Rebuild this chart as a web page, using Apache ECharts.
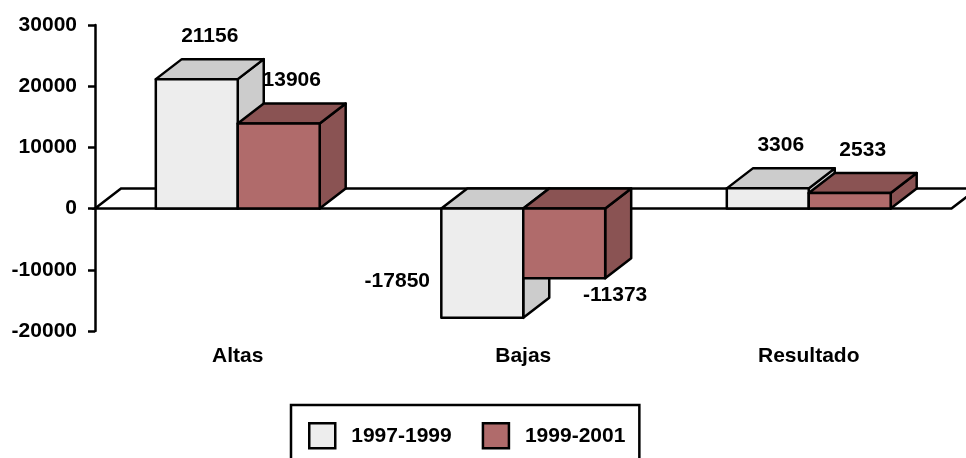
<!DOCTYPE html>
<html>
<head>
<meta charset="utf-8">
<script src="https://cdn.jsdelivr.net/npm/echarts@6/dist/echarts.min.js"></script>
<style>
  html, body { margin: 0; padding: 0; background: #fff; }
  #chart { width: 966px; height: 458px; }
</style>
</head>
<body>
<div id="chart"></div>
<script>
// datos
var categories = ['Altas', 'Bajas', 'Resultado'];
var seriesNames = ['1997-1999', '1999-2001'];
var values9799 = [21156, -17850, 3306];
var values9901 = [13906, -11373, 2533];
var yMin = -20000;
var yMax = 30000;
var yStep = 10000;

// estilo 3D
var DEPTH_X = 26;
var DEPTH_Y = 20;
var BAR_FRAC = 0.287;
var LINE_W = 2.5;
var FONT_SIZE = 21;
var FONT = 'Liberation Sans, Arial, sans-serif';
var faceColors = [
    {front: '#EDEDED', top: '#CCCCCC', side: '#CCCCCC'},
    {front: '#B06B6B', top: '#8A5353', side: '#8A5353'}
];

var chart = echarts.init(document.getElementById('chart'));

function barRenderer(k) {
    var col = faceColors[k];
    return function (params, api) {
        var cat = api.value(0);
        var val = api.value(1);
        var base = api.coord([cat, 0]);
        var end = api.coord([cat, val]);
        var band = api.size([1, 0])[0];
        var w = band * BAR_FRAC;
        var x0 = base[0] - w + k * w;
        var x1 = x0 + w;
        var yTop = Math.min(base[1], end[1]);
        var yBot = Math.max(base[1], end[1]);
        var line = {stroke: '#000', lineWidth: LINE_W, lineJoin: 'round'};

        // posicion de la etiqueta
        var lx, ly;
        if (val >= 0) {
            lx = (x0 + x1) / 2 + DEPTH_X / 2;
            ly = yTop - DEPTH_Y - 23;
        } else if (k === 0) {
            lx = x0 - 44;
            ly = yBot - 37;
        } else {
            lx = x1 + 10;
            ly = yBot + 17;
        }

        return {
            type: 'group',
            children: [
                {
                    type: 'polygon',
                    shape: {points: [[x1, yTop], [x1 + DEPTH_X, yTop - DEPTH_Y], [x1 + DEPTH_X, yBot - DEPTH_Y], [x1, yBot]]},
                    style: Object.assign({fill: col.side}, line)
                },
                {
                    type: 'polygon',
                    shape: {points: [[x0, yTop], [x0 + DEPTH_X, yTop - DEPTH_Y], [x1 + DEPTH_X, yTop - DEPTH_Y], [x1, yTop]]},
                    style: Object.assign({fill: col.top}, line)
                },
                {
                    type: 'rect',
                    shape: {x: x0, y: yTop, width: w, height: yBot - yTop},
                    style: Object.assign({fill: col.front}, line)
                },
                {
                    type: 'text',
                    style: {
                        text: String(val),
                        x: lx,
                        y: ly,
                        align: 'center',
                        verticalAlign: 'middle',
                        fill: '#000',
                        font: 'bold ' + FONT_SIZE + 'px ' + FONT
                    }
                }
            ]
        };
    };
}

// piso: un solo elemento que cubre todas las categorias
function floorRenderer(params, api) {
    var first = api.coord([0, 0]);
    var last = api.coord([categories.length - 1, 0]);
    var band = api.size([1, 0])[0];
    var xl = first[0] - band / 2;
    var xr = last[0] + band / 2;
    var y = first[1];
    return {
        type: 'polygon',
        shape: {points: [[xl, y], [xl + DEPTH_X, y - DEPTH_Y], [xr + DEPTH_X, y - DEPTH_Y], [xr, y]]},
        style: {fill: '#fff', stroke: '#000', lineWidth: LINE_W}
    };
}

var option = {
    backgroundColor: '#fff',
    animation: false,
    grid: {left: 95, right: 14.5, top: 25, bottom: 127},
    legend: {
        left: 291,
        top: 405,
        orient: 'horizontal',
        data: [
            {name: seriesNames[0], itemStyle: {color: faceColors[0].front, borderColor: '#000', borderWidth: LINE_W}},
            {name: seriesNames[1], itemStyle: {color: faceColors[1].front, borderColor: '#000', borderWidth: LINE_W}}
        ],
        icon: 'rect',
        itemWidth: 26,
        itemHeight: 25,
        itemGap: 30,
        padding: [17, 14, 30, 17],
        borderColor: '#000',
        borderWidth: LINE_W,
        textStyle: {
            fontFamily: FONT,
            fontWeight: 'bold',
            fontSize: FONT_SIZE,
            color: '#000',
            padding: [0, 0, 0, 11]
        }
    },
    xAxis: {
        type: 'category',
        data: categories,
        boundaryGap: true,
        axisLine: {show: false, onZero: false},
        axisTick: {show: false},
        axisLabel: {
            margin: 15,
            fontFamily: FONT,
            fontWeight: 'bold',
            fontSize: FONT_SIZE,
            color: '#000'
        },
        splitLine: {show: false}
    },
    yAxis: {
        type: 'value',
        min: yMin,
        max: yMax,
        interval: yStep,
        axisLine: {show: true, lineStyle: {color: '#000', width: LINE_W}},
        axisTick: {show: true, length: 7, lineStyle: {color: '#000', width: LINE_W}},
        axisLabel: {
            margin: 18,
            fontFamily: FONT,
            fontWeight: 'bold',
            fontSize: FONT_SIZE,
            color: '#000',
            formatter: function (v) { return String(v); }
        },
        splitLine: {show: false}
    },
    series: [
        {
            name: 'piso',
            type: 'custom',
            renderItem: floorRenderer,
            clip: false,
            z: 1,
            data: [[0, 0]],
            encode: {x: 0, y: 1},
            silent: true
        },
        {
            name: seriesNames[0],
            type: 'custom',
            renderItem: barRenderer(0),
            clip: false,
            z: 2,
            itemStyle: {color: faceColors[0].front},
            data: values9799.map(function (v, i) { return [i, v]; }),
            encode: {x: 0, y: 1}
        },
        {
            name: seriesNames[1],
            type: 'custom',
            renderItem: barRenderer(1),
            clip: false,
            z: 3,
            itemStyle: {color: faceColors[1].front},
            data: values9901.map(function (v, i) { return [i, v]; }),
            encode: {x: 0, y: 1}
        }
    ]
};

chart.setOption(option);
</script>
</body>
</html>
